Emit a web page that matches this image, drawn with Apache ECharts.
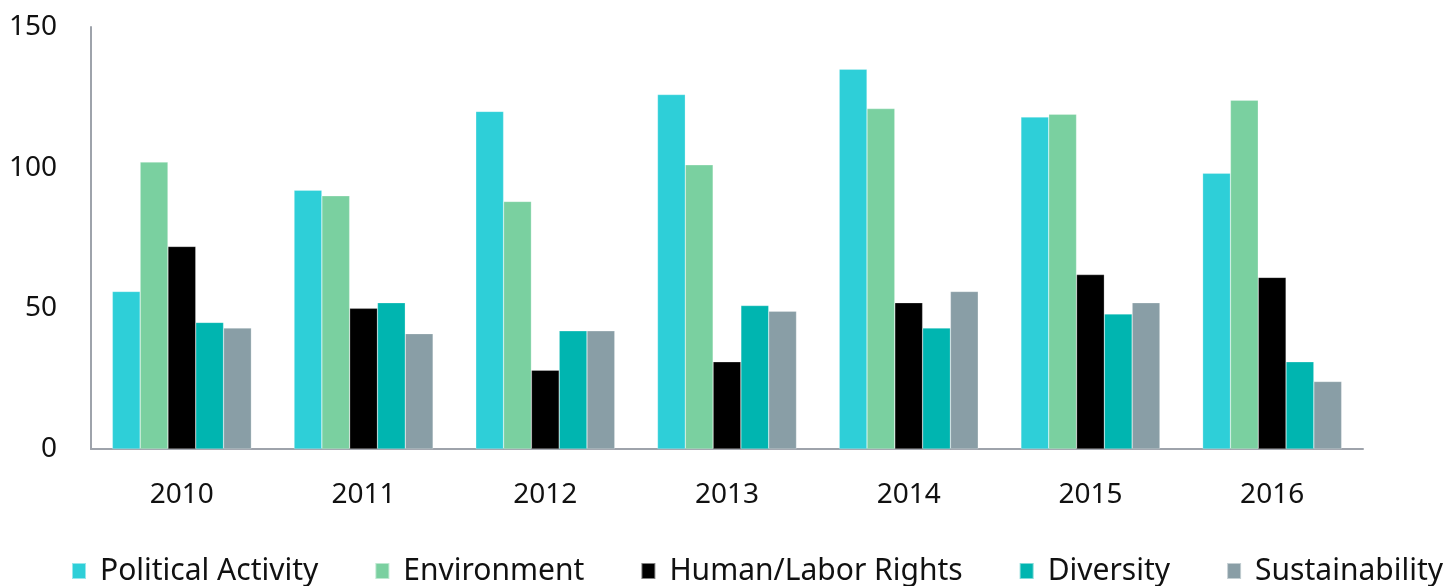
<!DOCTYPE html>
<html>
<head>
<meta charset="utf-8">
<script src="https://cdn.jsdelivr.net/npm/echarts@6/dist/echarts.min.js"></script>
<style>
html,body{margin:0;padding:0;background:#fff;}
#chart{width:1456px;height:586px;}
</style>
</head>
<body>
<div id="chart"></div>
<script>
const categories = ['2010','2011','2012','2013','2014','2015','2016'];
const seriesNames = ['Political Activity','Environment','Human/Labor Rights','Diversity','Sustainability'];
const politicalActivity = [56, 92, 120, 126, 135, 118, 98];
const environment = [102, 90, 88, 101, 121, 119, 124];
const humanLaborRights = [72, 50, 28, 31, 52, 62, 61];
const diversity = [45, 52, 42, 51, 43, 48, 31];
const sustainability = [43, 41, 42, 49, 56, 52, 24];
const colors = ['#2ecfd8','#7ad0a0','#000000','#00b5b0','#899ea6'];
const allValues = [politicalActivity, environment, humanLaborRights, diversity, sustainability];

const chart = echarts.init(document.getElementById('chart'));
const font = '"Noto Sans", sans-serif';
chart.setOption({
  animation: false,
  color: colors,
  grid: {left: 91, right: 93, top: 27, bottom: 137, containLabel: false},
  legend: {
    top: 551,
    left: 66,
    itemWidth: 14,
    itemHeight: 16,
    itemGap: 56,
    icon: 'rect',
    textStyle: {fontFamily: font, fontSize: 30, color: '#111', padding: [0,0,0,9]},
    data: seriesNames
  },
  xAxis: {
    type: 'category',
    data: categories,
    axisLine: {lineStyle: {color: '#9ea3ab', width: 2}},
    axisTick: {show: false},
    axisLabel: {fontFamily: font, fontSize: 28, color: '#111', margin: 32}
  },
  yAxis: {
    type: 'value',
    min: 0, max: 150, interval: 50,
    axisLine: {show: true, lineStyle: {color: '#9ea3ab', width: 2}},
    axisTick: {show: false},
    splitLine: {show: false},
    axisLabel: {fontFamily: font, fontSize: 28, color: '#111', margin: 34}
  },
  series: seriesNames.map((n, i) => ({
    name: n,
    type: 'bar',
    data: allValues[i],
    barGap: '0%',
    barCategoryGap: '23.5%',
    itemStyle: {color: colors[i], borderColor: 'rgba(255,255,255,0.5)', borderWidth: 0.5}
  }))
});
</script>
</body>
</html>
